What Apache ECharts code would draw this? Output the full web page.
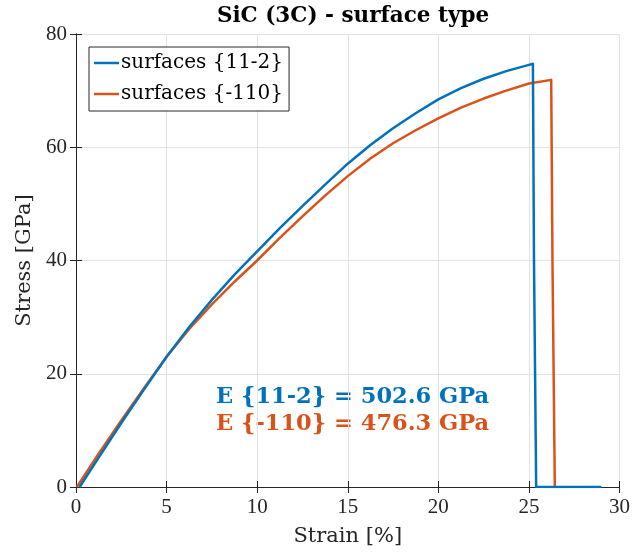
<!DOCTYPE html>
<html>
<head>
<meta charset="utf-8">
<script src="https://cdn.jsdelivr.net/npm/echarts@6/dist/echarts.min.js"></script>
<style>
  html, body { margin: 0; padding: 0; background: #fff; }
  #main { width: 633px; height: 557px; }
</style>
</head>
<body>
<div id="main"></div>
<script>
// values
var seriesNames = ['surfaces {11-2}', 'surfaces {-110}'];
var strain112 = [0.2, 1.25, 2.5, 3.75, 5, 6.25, 7.5, 8.75, 10, 11.25, 12.5, 13.75, 15, 16.25, 17.5,
                 18.75, 20, 21.25, 22.5, 23.75, 25, 25.22, 25.28, 25.4, 29];
var stress112 = [0, 5.2, 11.3, 17.2, 23.0, 28.25, 33.05, 37.5, 41.6, 45.7, 49.6, 53.4, 57.1, 60.4, 63.35,
                 66.0, 68.45, 70.45, 72.1, 73.45, 74.55, 74.75, 40, 0, 0];
var strain110 = [0.05, 1.25, 2.5, 3.75, 5, 6.25, 7.5, 8.75, 10, 11.25, 12.5, 13.75, 15, 16.25, 17.5,
                 18.75, 20, 21.25, 22.5, 23.75, 25, 26.23, 26.3, 26.43, 26.5];
var stress110 = [0, 5.9, 11.75, 17.45, 23.0, 27.9, 32.25, 36.25, 40.0, 44.0, 47.8, 51.45, 54.9, 58.0, 60.7,
                 63.0, 65.1, 67.0, 68.6, 70.0, 71.25, 71.9, 40, 0, 0];
var notes = ['E {11-2} = 502.6 GPa', 'E {-110} = 476.3 GPa'];

var blue = '#0072BD';
var orange = '#D95319';
var tickFont = 'Liberation Serif';
var textFont = 'DejaVu Serif';

function pairs(xs, ys) {
    return xs.map(function (x, i) { return [x, ys[i]]; });
}

var chart = echarts.init(document.getElementById('main'));

var axisCommon = {
    type: 'value',
    axisLine: { show: true, lineStyle: { color: '#262626', width: 1 } },
    axisTick: { show: true, inside: true, length: 6, lineStyle: { color: '#262626' } },
    splitLine: { show: false }
};
var gridLine = { show: true, lineStyle: { color: '#e2e2e2', width: 1 } };
var nameStyle = { fontFamily: textFont, fontSize: 21, color: '#262626' };
var labelStyle = { fontFamily: tickFont, fontSize: 21, color: '#262626' };

var option = {
    backgroundColor: '#fff',
    animation: false,
    title: {
        text: 'SiC (3C) - surface type',
        left: 348,
        textAlign: 'center',
        top: 0,
        textStyle: { fontFamily: textFont, fontSize: 21.5, fontWeight: 'bold', color: '#000' }
    },
    legend: {
        orient: 'vertical',
        left: 89,
        top: 47,
        data: seriesNames,
        backgroundColor: '#fff',
        borderColor: '#262626',
        borderWidth: 1,
        padding: [6, 6, 7, 5],
        itemGap: 11,
        itemWidth: 25,
        itemHeight: 2.5,
        icon: 'rect',
        textStyle: { fontFamily: textFont, fontSize: 20, lineHeight: 20, color: '#000', padding: [0, 0, 0, -3] }
    },
    grid: { left: 76, right: 12, top: 34, bottom: 70 },
    xAxis: [
        Object.assign({}, axisCommon, {
            min: 0, max: 30, interval: 5,
            name: 'Strain [%]',
            nameLocation: 'middle',
            nameGap: 39,
            nameTextStyle: nameStyle,
            axisLabel: Object.assign({ margin: 10 }, labelStyle),
            splitLine: gridLine
        }),
        Object.assign({}, axisCommon, {
            position: 'top', min: 0, max: 30, interval: 5,
            axisLabel: { show: false }
        })
    ],
    yAxis: [
        Object.assign({}, axisCommon, {
            min: 0, max: 80, interval: 20,
            name: 'Stress [GPa]',
            nameLocation: 'middle',
            nameGap: 41,
            nameTextStyle: nameStyle,
            axisLabel: Object.assign({ margin: 9 }, labelStyle),
            splitLine: gridLine
        }),
        Object.assign({}, axisCommon, {
            position: 'right', min: 0, max: 80, interval: 20,
            axisLabel: { show: false }
        })
    ],
    series: [
        {
            name: seriesNames[0],
            type: 'line',
            data: pairs(strain112, stress112),
            smooth: false,
            showSymbol: false,
            lineStyle: { color: blue, width: 2.5, join: 'round' },
            itemStyle: { color: blue },
            z: 3
        },
        {
            name: seriesNames[1],
            type: 'line',
            data: pairs(strain110, stress110),
            smooth: false,
            showSymbol: false,
            lineStyle: { color: orange, width: 2.5, join: 'round' },
            itemStyle: { color: orange },
            z: 2
        }
    ],
    graphic: [
        {
            type: 'text', left: 216, top: 386,
            style: { text: notes[0], fill: blue, font: 'bold 22.5px "' + textFont + '"' }
        },
        {
            type: 'text', left: 216, top: 413,
            style: { text: notes[1], fill: orange, font: 'bold 22.5px "' + textFont + '"' }
        }
    ]
};

chart.setOption(option);
</script>
</body>
</html>
